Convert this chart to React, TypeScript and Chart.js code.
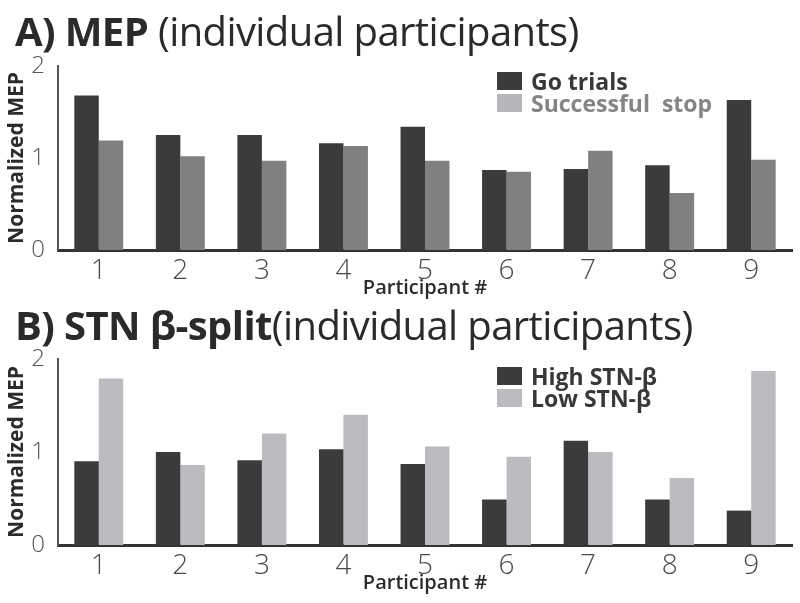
import React, { useEffect, useRef } from "react";
import { Chart, registerables } from "chart.js";

Chart.register(...registerables);

// ---------- data ----------
const participants = ["1", "2", "3", "4", "5", "6", "7", "8", "9"];
const goTrials = [1.68, 1.25, 1.25, 1.16, 1.34, 0.87, 0.88, 0.92, 1.63];
const successfulStop = [1.19, 1.02, 0.97, 1.13, 0.97, 0.85, 1.08, 0.62, 0.98];
const highSTN = [0.9, 1.0, 0.91, 1.03, 0.87, 0.49, 1.12, 0.49, 0.37];
const lowSTN = [1.79, 0.86, 1.2, 1.4, 1.06, 0.95, 1.0, 0.72, 1.87];
const yMin = 0;
const yMax = 2;
const yStep = 1;

const FONT = "'Open Sans', sans-serif";
const DARK = "#3b3b3d";

const legendPlugin = {
  id: "boxLegend",
  afterDraw(chart: any, _args: any, opts: any) {
    const ctx = chart.ctx;
    ctx.save();
    ctx.font = opts.font;
    ctx.textBaseline = "alphabetic";
    ctx.textAlign = "left";
    chart.data.datasets.forEach((ds: any, i: number) => {
      const it = opts.items[i];
      const top = opts.y + i * opts.gap;
      ctx.fillStyle = it.swatch;
      ctx.fillRect(opts.x, top, opts.w, opts.h);
      ctx.fillStyle = it.text;
      ctx.fillText(ds.label, opts.x + opts.textDx, top + opts.h);
    });
    ctx.restore();
  },
};

type PanelProps = {
  labels: string[];
  names: string[];
  series: number[][];
  colors: string[];
  legendItems: { swatch: string; text: string }[];
  legendY: number;
  plotTop: number;
  xH: number;
  height: number;
  plotBottom: number;
};

function Panel(p: PanelProps) {
  const ref = useRef<HTMLCanvasElement | null>(null);
  useEffect(() => {
    if (!ref.current) return;
    const chart = new Chart(ref.current, {
      type: "bar",
      data: {
        labels: p.labels,
        datasets: p.series.map((s, i) => ({
          label: p.names[i],
          data: s,
          backgroundColor: p.colors[i],
          borderWidth: 0,
          barPercentage: 1,
          categoryPercentage: 0.6,
        })),
      },
      options: {
        animation: false,
        responsive: false,
        maintainAspectRatio: false,
        layout: {
          padding: { left: 0, right: 8, top: p.plotTop, bottom: p.height - p.plotBottom - p.xH },
        },
        plugins: {
          legend: { display: false },
          tooltip: { enabled: false },
          boxLegend: {
            x: 497,
            y: p.legendY,
            w: 25,
            h: 18,
            gap: 22,
            textDx: 34,
            font: `bold 23px ${FONT}`,
            items: p.legendItems,
          },
        } as any,
        scales: {
          x: {
            grid: { display: false },
            border: { display: true, color: "#333335", width: 3 },
            ticks: {
              color: "#4a4a4c",
              padding: -4,
              font: { family: FONT, size: 28, weight: "300" },
            },
            title: {
              display: true,
              text: "Participant #",
              color: "#2b2b2d",
              font: { family: FONT, size: 20, weight: "600" },
              padding: { top: 0, bottom: 0 },
            },
            afterFit: (s: any) => {
              s.height = p.xH;
            },
          },
          y: {
            min: yMin,
            max: yMax,
            grid: { display: false },
            border: { display: true, color: "#555557", width: 2 },
            ticks: {
              stepSize: yStep,
              color: "#555557",
              padding: 5,
              font: { family: FONT, size: 24, weight: "300" },
            },
            title: {
              display: true,
              text: "Normalized MEP",
              color: "#2b2b2d",
              font: { family: FONT, size: 21, weight: "bold" },
              padding: { top: 4, bottom: 0 },
            },
            afterFit: (s: any) => {
              s.width = 58;
            },
          },
        },
      } as any,
      plugins: [legendPlugin],
    });
    return () => chart.destroy();
  }, []);
  return <canvas ref={ref} width={800} height={p.height} style={{ display: "block" }} />;
}

const titleStyle: React.CSSProperties = {
  position: "absolute",
  left: 15,
  fontFamily: FONT,
  fontSize: 40,
  lineHeight: 1,
  color: "#2a2a2c",
  whiteSpace: "nowrap",
  letterSpacing: "-0.6px",
};

export default function App() {
  return (
    <div style={{ position: "absolute", left: 0, top: 0, width: 800, height: 603, background: "#fff", overflow: "hidden" }}>
      <div style={{ position: "absolute", left: 0, top: 0 }}>
        <Panel
          labels={participants}
          names={["Go trials", "Successful  stop"]}
          series={[goTrials, successfulStop]}
          colors={[DARK, "#808083"]}
          legendItems={[
            { swatch: DARK, text: "#38383a" },
            { swatch: "#b5b6b9", text: "#858587" },
          ]}
          legendY={72}
          plotTop={66}
          plotBottom={250}
          xH={50}
          height={303}
        />
      </div>
      <div style={{ position: "absolute", left: 0, top: 300 }}>
        <Panel
          labels={participants}
          names={["High STN-β", "Low STN-β"]}
          series={[highSTN, lowSTN]}
          colors={[DARK, "#bbbcbf"]}
          legendItems={[
            { swatch: DARK, text: "#38383a" },
            { swatch: "#bbbcbf", text: "#38383a" },
          ]}
          legendY={67}
          plotTop={59}
          plotBottom={245}
          xH={50}
          height={303}
        />
      </div>
      <div style={{ ...titleStyle, top: 11 }}>
        <span style={{ fontWeight: 700 }}>A) MEP </span>
        <span style={{ fontWeight: 400 }}>(individual participants)</span>
      </div>
      <div style={{ ...titleStyle, top: 305 }}>
        <span style={{ fontWeight: 700 }}>B) STN β-split</span>
        <span style={{ fontWeight: 400 }}>(individual participants)</span>
      </div>
    </div>
  );
}
